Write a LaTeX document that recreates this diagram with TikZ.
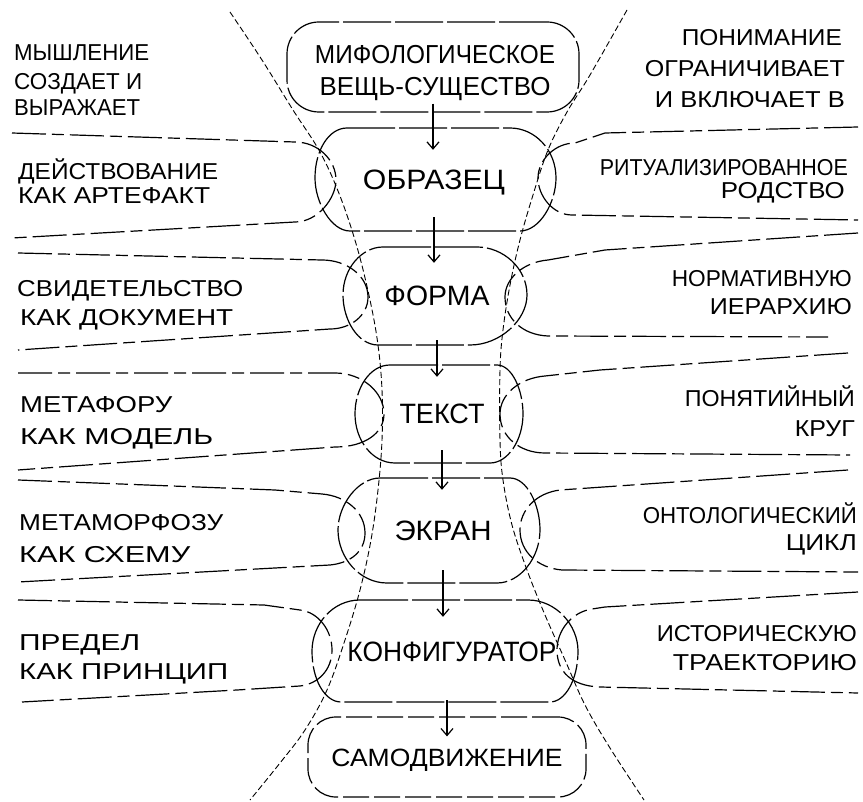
\documentclass[tikz,border=0pt]{standalone}
\usepackage{fontspec}
\setmainfont{Liberation Sans}
\usepackage{graphicx}
\usetikzlibrary{arrows.meta}
\newcommand\fitw[2]{\resizebox{#1pt}{\height}{#2}}
\tikzset{
  boxline/.style={line width=1.2pt, dash pattern=on 48pt off 4pt},
  bandline/.style={line width=1.2pt, dash pattern=on 34pt off 6pt on 12pt off 6pt},
  hyper/.style={line width=0.9pt, dash pattern=on 6pt off 3pt},
  side/.style={inner sep=0pt, text height=16.5pt, text depth=0pt, font=\fontsize{23}{23}\selectfont},
  centre/.style={inner sep=0pt, text height=20pt, text depth=0pt, font=\fontsize{28}{28}\selectfont},
  arr/.style={line width=1.2pt, -{Straight Barb[length=7pt,width=12pt]}},
}
\begin{document}
\begin{tikzpicture}[x=1pt,y=-1pt]
\useasboundingbox (0,0) rectangle (863,802);

% two dashed hyperbola branches
\draw[hyper] plot[smooth, tension=0.6] coordinates {(230,12) (262,60) (293,110) (320,152) (340,196) (357,247) (370,300) (378,345) (382,390) (382,440) (378,490) (371,540) (360,590) (345,640) (327,690) (305,730) (280,763) (250,800)};
\draw[hyper] plot[smooth, tension=0.6] coordinates {(627,10) (590,75) (567,112) (548,150) (533,195) (520,240) (510,285) (503,330) (500,370) (500,440) (503,480) (512,525) (527,570) (545,615) (565,660) (585,705) (610,748) (644,800)};

% row 1
\draw[boxline] (347,128) -- (510,128) .. controls (535,128) and (556,150) .. (556,178) .. controls (556,202) and (540,231) .. (520,231) -- (350,231) .. controls (331,231) and (315,202) .. (315,178) .. controls (315,150) and (329,128) .. (347,128);
\draw[bandline] (12,133) -- (295,142) .. controls (318,142) and (336,160) .. (336,180) .. controls (336,198) and (318,222) .. (295,222) -- (12,238);
\draw[bandline] (858,127) -- (605,133) -- (575,143) .. controls (555,143) and (538,160) .. (538,178) .. controls (538,196) and (553,215) .. (572,215) -- (858,220);

% row 2
\draw[boxline] (383,247) -- (477,247) .. controls (503,247) and (527,268) .. (527,295) .. controls (527,320) and (500,345) .. (470,345) -- (378,345) .. controls (358,345) and (343,320) .. (343,295) .. controls (343,268) and (362,247) .. (383,247);
\draw[bandline] (18,253) -- (322,260) .. controls (347,260) and (368,276) .. (368,297) .. controls (368,316) and (350,329) .. (330,329) -- (18,350);
\draw[bandline] (858,233) -- (605,250) -- (548,260) .. controls (524,262) and (505,278) .. (505,297) .. controls (505,318) and (522,335) .. (548,336) -- (828,337);

% row 3
\draw[boxline] (390,365) -- (497,365) .. controls (512,365) and (523,390) .. (523,414) .. controls (523,440) and (508,463) .. (490,463) -- (395,463) .. controls (372,463) and (355,440) .. (355,414) .. controls (355,388) and (370,365) .. (390,365);
\draw[bandline] (18,373) -- (335,373) .. controls (362,373) and (384,392) .. (384,414) .. controls (384,433) and (365,447) .. (335,447) -- (18,470);
\draw[bandline] (848,353) -- (600,370) -- (545,376) .. controls (520,378) and (500,394) .. (500,414) .. controls (500,437) and (520,453) .. (545,453) -- (850,455);

% row 4
\draw[boxline] (380,478) -- (510,478) .. controls (527,478) and (540,505) .. (540,530) .. controls (540,558) and (520,583) .. (497,583) -- (387,583) .. controls (360,583) and (338,558) .. (338,530) .. controls (338,505) and (358,478) .. (380,478);
\draw[bandline] (18,480) -- (275,490) -- (322,494) .. controls (346,496) and (365,512) .. (365,533) .. controls (365,552) and (350,563) .. (330,565) -- (18,582);
\draw[bandline] (848,470) -- (560,490) .. controls (536,493) and (520,510) .. (520,530) .. controls (520,552) and (538,568) .. (562,570) -- (858,572);

% row 5
\draw[boxline] (360,600) -- (528,600) .. controls (556,600) and (578,625) .. (578,651) .. controls (578,680) and (565,702) .. (550,702) -- (341,702) .. controls (325,702) and (312,680) .. (312,651) .. controls (312,625) and (332,600) .. (360,600);
\draw[bandline] (18,600) -- (264,605) -- (300,610) .. controls (318,612) and (332,630) .. (332,650) .. controls (332,670) and (318,684) .. (300,686) -- (237,690) -- (22,702);
\draw[bandline] (858,592) -- (605,607) -- (592,609) .. controls (572,612) and (557,630) .. (557,650) .. controls (557,672) and (572,686) .. (600,687) -- (858,693);

% top and bottom boxes
\node[draw, boxline, rounded corners=32pt, minimum width=292pt, minimum height=90pt, inner sep=0pt] (n0) at (433,67) {};
\node[centre, font=\fontsize{26}{26}\selectfont, text height=18.6pt] (t0a) at (435,54) {\fitw{240}{МИФОЛОГИЧЕСКОЕ}};
\node[centre, font=\fontsize{26}{26}\selectfont, text height=18.6pt] (t0b) at (435,86) {\fitw{231}{ВЕЩЬ-СУЩЕСТВО}};
\node[draw, line width=1.2pt, dash pattern=on 26pt off 5pt, rounded corners=28pt, minimum width=278pt, minimum height=80pt, centre, font=\fontsize{25}{25}\selectfont, text height=18pt] (n6) at (447,757) {\fitw{231}{САМОДВИЖЕНИЕ}};

% central nodes
\node[centre, minimum height=103pt] (n1) at (434,180) {\fitw{142}{ОБРАЗЕЦ}};
\node[centre, minimum height=98pt] (n2) at (437,296) {\fitw{105}{ФОРМА}};
\node[centre, minimum height=98pt] (n3) at (442,414) {\fitw{85}{ТЕКСТ}};
\node[centre, minimum height=105pt] (n4) at (443,530) {\fitw{97}{ЭКРАН}};
\node[centre, minimum height=102pt] (n5) at (452,651) {\fitw{209}{КОНФИГУРАТОР}};

% arrows
\draw[arr, shorten <=-9pt, shorten >=-21.5pt] (n0.south) -- (n0.south |- n1.north);
\draw[arr, shorten <=-14.5pt, shorten >=-16pt] (n1.south) -- (n1.south |- n2.north);
\draw[arr, shorten <=-5pt, shorten >=-12pt] (n2.south) -- (n2.south |- n3.north);
\draw[arr, shorten <=-13pt, shorten >=-12.5pt] (n3.south) -- (n3.south |- n4.north);
\draw[arr, shorten <=-12.5pt, shorten >=-17pt] (n4.south) -- (n4.south |- n5.north);
\draw[arr, shorten <=-2pt, shorten >=-20pt] (n6.north |- n5.south) -- (n6.north);

% left texts
\node[side, anchor=west] (l0a) at (14,52) {\fitw{135}{МЫШЛЕНИЕ}};
\node[side, anchor=west] (l0b) at (14,81) {\fitw{128}{СОЗДАЕТ И}};
\node[side, anchor=west] (l0c) at (14,107) {\fitw{126}{ВЫРАЖАЕТ}};
\node[side, anchor=west] (l1a) at (18,171) {\fitw{200}{ДЕЙСТВОВАНИЕ}};
\node[side, anchor=west] (l1b) at (18,195) {\fitw{192}{КАК АРТЕФАКТ}};
\node[side, anchor=west] (l2a) at (17,288) {\fitw{226}{СВИДЕТЕЛЬСТВО}};
\node[side, anchor=west] (l2b) at (20,317) {\fitw{213}{КАК ДОКУМЕНТ}};
\node[side, anchor=west] (l3a) at (20,404) {\fitw{152}{МЕТАФОРУ}};
\node[side, anchor=west] (l3b) at (20,436) {\fitw{193}{КАК МОДЕЛЬ}};
\node[side, anchor=west] (l4a) at (19,522) {\fitw{204}{МЕТАМОРФОЗУ}};
\node[side, anchor=west] (l4b) at (19,554) {\fitw{171}{КАК СХЕМУ}};
\node[side, anchor=west] (l5a) at (19,642) {\fitw{121}{ПРЕДЕЛ}};
\node[side, anchor=west] (l5b) at (19,671) {\fitw{209}{КАК ПРИНЦИП}};

% right texts
\node[side, anchor=east] (r0a) at (842,37) {\fitw{160}{ПОНИМАНИЕ}};
\node[side, anchor=east] (r0b) at (845,68) {\fitw{200}{ОГРАНИЧИВАЕТ}};
\node[side, anchor=east] (r0c) at (845,99) {\fitw{190}{И ВКЛЮЧАЕТ В}};
\node[side, anchor=east] (r1a) at (848,167) {\fitw{248}{РИТУАЛИЗИРОВАННОЕ}};
\node[side, anchor=east] (r1b) at (845,190) {\fitw{124}{РОДСТВО}};
\node[side, anchor=east] (r2a) at (852,278) {\fitw{180}{НОРМАТИВНУЮ}};
\node[side, anchor=east] (r2b) at (852,306) {\fitw{142}{ИЕРАРХИЮ}};
\node[side, anchor=east] (r3a) at (855,398) {\fitw{170}{ПОНЯТИЙНЫЙ}};
\node[side, anchor=east] (r3b) at (855,428) {\fitw{60}{КРУГ}};
\node[side, anchor=east] (r4a) at (857,515) {\fitw{214}{ОНТОЛОГИЧЕСКИЙ}};
\node[side, anchor=east] (r4b) at (857,542) {\fitw{71}{ЦИКЛ}};
\node[side, anchor=east] (r5a) at (857,633) {\fitw{200}{ИСТОРИЧЕСКУЮ}};
\node[side, anchor=east] (r5b) at (857,662) {\fitw{184}{ТРАЕКТОРИЮ}};
\end{tikzpicture}
\end{document}
